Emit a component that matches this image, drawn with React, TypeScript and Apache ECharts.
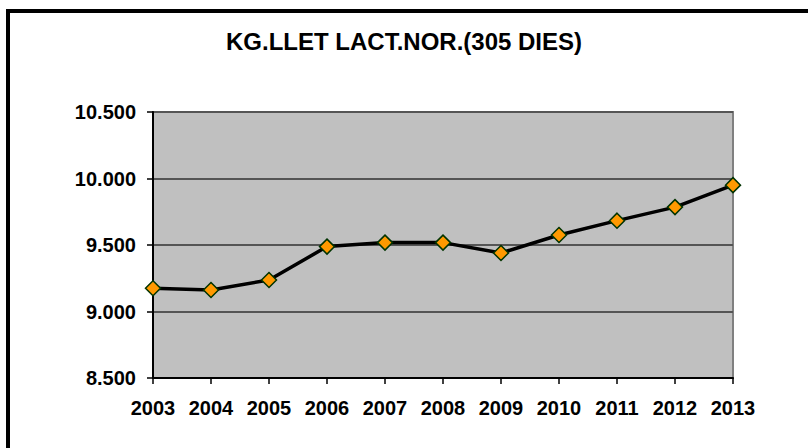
import React, { useEffect, useRef } from "react";
import * as echarts from "echarts";

const years = ["2003", "2004", "2005", "2006", "2007", "2008", "2009", "2010", "2011", "2012", "2013"];
const kgLlet = [9175, 9162, 9237, 9488, 9518, 9518, 9440, 9575, 9683, 9785, 9950];
const titleText = "KG.LLET LACT.NOR.(305 DIES)";

const FONT = "Arial, 'Liberation Sans', sans-serif";

function fmt(v: number): string {
  const s = Math.round(v).toString();
  return s.replace(/\B(?=(\d{3})+(?!\d))/g, ".");
}

export default function App() {
  const ref = useRef<HTMLDivElement>(null);
  useEffect(() => {
    if (!ref.current) return;
    const chart = echarts.init(ref.current, null, { renderer: "svg" });
    chart.setOption({
      animation: false,
      backgroundColor: "#ffffff",
      title: {
        text: titleText,
        left: "center",
        top: 24,
        textStyle: { fontFamily: FONT, fontSize: 24, fontWeight: "bold", color: "#000" },
      },
      graphic: [
        { type: "rect", shape: { x: 6, y: 9, width: 810, height: 4 }, style: { fill: "#000" } },
        { type: "rect", shape: { x: 6, y: 9, width: 4, height: 450 }, style: { fill: "#000" } },
      ],
      grid: {
        left: 153,
        right: 75,
        top: 112,
        bottom: 70,
        show: true,
        backgroundColor: "#C0C0C0",
        borderColor: "#808080",
        borderWidth: 2,
      },
      xAxis: {
        type: "category",
        data: years,
        boundaryGap: false,
        axisLine: { show: true, lineStyle: { color: "#000", width: 2 } },
        axisTick: { show: true, inside: false, length: 6, lineStyle: { color: "#000", width: 1.5 } },
        axisLabel: {
          margin: 20,
          fontFamily: FONT,
          fontSize: 20,
          fontWeight: "bold",
          color: "#000",
        },
        splitLine: { show: false },
      },
      yAxis: {
        type: "value",
        min: 8500,
        max: 10500,
        interval: 500,
        axisLine: { show: true, lineStyle: { color: "#000", width: 2 } },
        axisTick: { show: true, inside: false, length: 6, lineStyle: { color: "#000", width: 1.5 } },
        axisLabel: {
          margin: 17,
          fontFamily: FONT,
          fontSize: 20,
          fontWeight: "bold",
          color: "#000",
          formatter: (v: number) => fmt(v),
        },
        splitLine: { show: true, lineStyle: { color: "#555555", width: 2 } },
      },
      series: [
        {
          type: "line",
          data: kgLlet,
          symbol: "diamond",
          symbolSize: 15,
          lineStyle: { color: "#000", width: 3.5 },
          itemStyle: { color: "#FF9900", borderColor: "#003300", borderWidth: 1.5 },
          z: 5,
        },
      ],
    });
    return () => chart.dispose();
  }, []);
  return (
    <div
      ref={ref}
      style={{ position: "fixed", left: 0, top: 0, width: 808, height: 448 }}
    />
  );
}
